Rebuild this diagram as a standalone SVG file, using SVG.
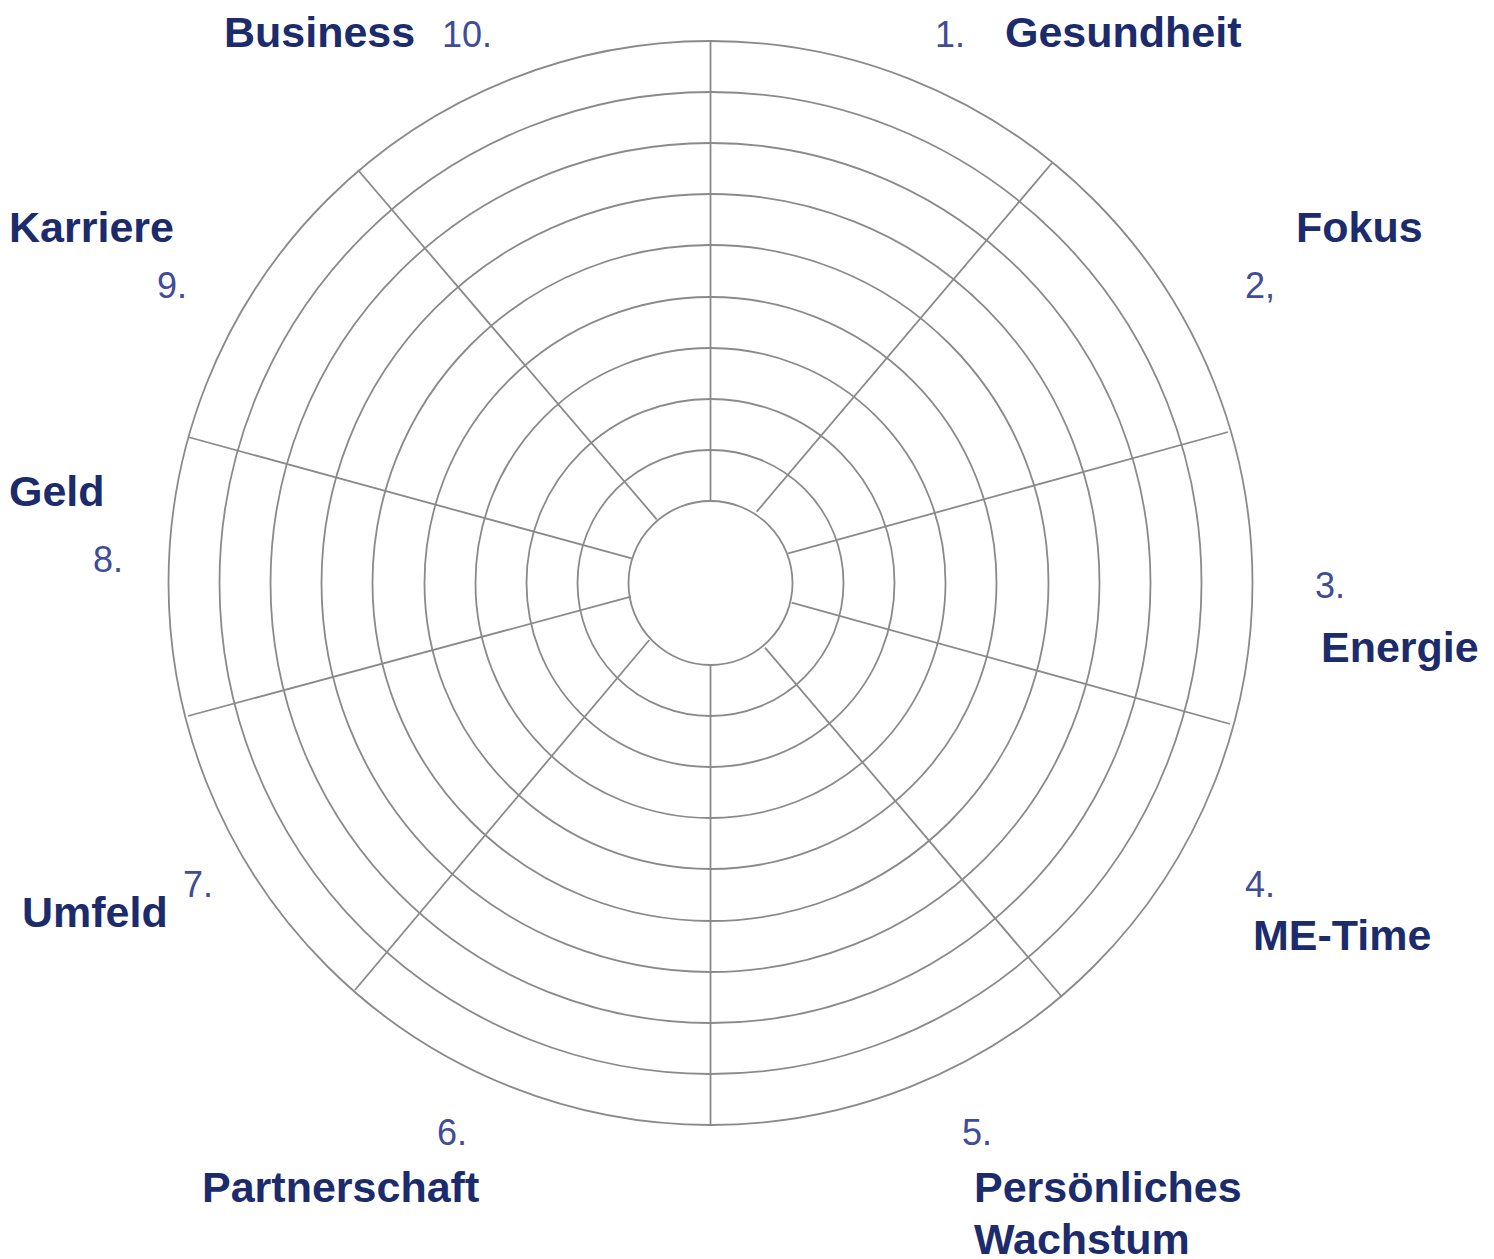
<svg xmlns="http://www.w3.org/2000/svg" width="1494" height="1259" viewBox="0 0 1494 1259">
<style>
.ring{fill:none;stroke:#8a8a8a;stroke-width:1.8}
.spoke{stroke:#8a8a8a;stroke-width:1.8;fill:none}
.lbl{font-family:"Liberation Sans",Arial,sans-serif;font-weight:bold;font-size:43px;fill:#1c2b6b}
.num{font-family:"Liberation Sans",Arial,sans-serif;font-size:36px;fill:#404c98}
</style>
<rect x="0" y="0" width="1494" height="1259" fill="#ffffff"/>
<g id="wheel">
<circle class="ring" cx="710.5" cy="583" r="542"/>
<circle class="ring" cx="710.5" cy="583" r="491"/>
<circle class="ring" cx="710.5" cy="583" r="440"/>
<circle class="ring" cx="710.5" cy="583" r="389"/>
<circle class="ring" cx="710.5" cy="583" r="338"/>
<circle class="ring" cx="710.5" cy="583" r="286"/>
<circle class="ring" cx="710.5" cy="583" r="235"/>
<circle class="ring" cx="710.5" cy="583" r="184"/>
<circle class="ring" cx="710.5" cy="583" r="133"/>
<circle class="ring" cx="710.5" cy="583" r="82" fill="#fcfcfb"/>
</g>
<g id="connectors">
<line class="spoke" x1="710.5" y1="501" x2="710.5" y2="41"/>
<line class="spoke" x1="756.7" y1="511.7" x2="1052" y2="163"/>
<line class="spoke" x1="788.3" y1="553.3" x2="1228" y2="432"/>
<line class="spoke" x1="791.7" y1="602.7" x2="1230" y2="724"/>
<line class="spoke" x1="765" y1="647.7" x2="1062" y2="997"/>
<line class="spoke" x1="710.5" y1="665" x2="710.5" y2="1125"/>
<line class="spoke" x1="649.3" y1="640" x2="355" y2="990"/>
<line class="spoke" x1="631" y1="596.7" x2="188" y2="716"/>
<line class="spoke" x1="631.7" y1="558.3" x2="188" y2="437"/>
<line class="spoke" x1="656.7" y1="519.3" x2="358" y2="170"/>
</g>
<g id="n1"><text class="num" x="935" y="47">1.</text><text class="lbl" x="1005" y="47">Gesundheit</text></g>
<g id="n2"><text class="lbl" x="1296" y="242">Fokus</text><text class="num" x="1245" y="298">2,</text></g>
<g id="n3"><text class="num" x="1315" y="598">3.</text><text class="lbl" x="1321" y="662">Energie</text></g>
<g id="n4"><text class="num" x="1245" y="897">4.</text><text class="lbl" x="1253" y="950">ME-Time</text></g>
<g id="n5"><text class="num" x="962" y="1145">5.</text><text class="lbl" x="974" y="1202">Persönliches</text><text class="lbl" x="974" y="1254">Wachstum</text></g>
<g id="n6"><text class="num" x="437" y="1145">6.</text><text class="lbl" x="202" y="1202">Partnerschaft</text></g>
<g id="n7"><text class="num" x="183" y="897">7.</text><text class="lbl" x="22" y="927">Umfeld</text></g>
<g id="n8"><text class="lbl" x="9" y="506">Geld</text><text class="num" x="93" y="572">8.</text></g>
<g id="n9"><text class="lbl" x="9" y="242">Karriere</text><text class="num" x="157" y="298">9.</text></g>
<g id="n10"><text class="lbl" x="224" y="47">Business</text><text class="num" x="442" y="47">10.</text></g>
</svg>
